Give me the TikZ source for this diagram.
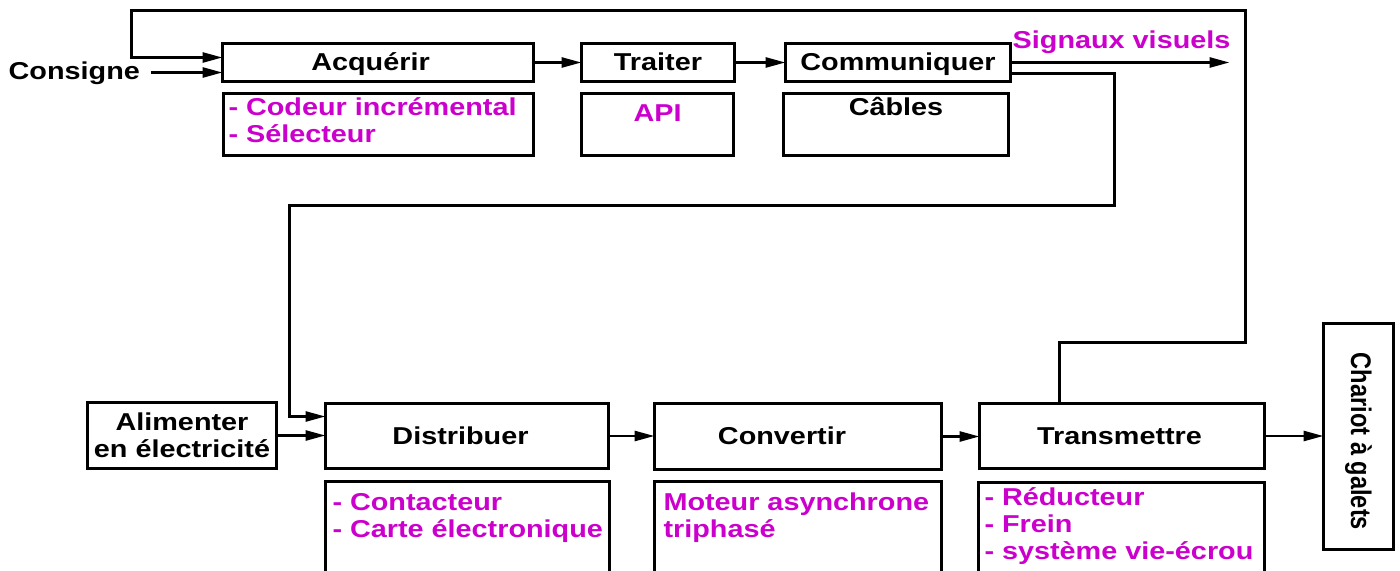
\documentclass[tikz,border=0pt]{standalone}
\usepackage{fontspec}
\setmainfont{Liberation Sans}[FakeStretch=1.18]
\newfontfamily\plainsans{Liberation Sans}
\usetikzlibrary{arrows.meta,calc}
\definecolor{mag}{HTML}{CC00CC}
\tikzset{
  blk/.style={draw, line width=3bp, inner sep=0pt, outer sep=0pt, font=\fontsize{24.5}{27}\selectfont\bfseries},
  lab/.style={blk, text height=18bp, text depth=2bp},
  sub/.style={blk, anchor=north west},
  free/.style={anchor=base west, inner sep=0pt, font=\fontsize{24.5}{27}\selectfont\bfseries},
  conn/.style={line width=2.7bp, -{Triangle[length=20bp,width=10bp]}}
}
\begin{document}
\begin{tikzpicture}[x=1bp,y=-1bp]
\clip (0,0) rectangle (1400,571);
\fill[white] (0,0) rectangle (1400,571);
\begin{scope}[shift={(0.5,0.5)}]
% upper row
\node[lab, minimum width=311bp, minimum height=38bp] (acq) at (377.5,62) {Acquérir\hspace*{15bp}};
\node[lab, minimum width=153bp, minimum height=38bp] (trt) at (657.5,62) {Traiter};
\node[lab, minimum width=225bp, minimum height=38bp] (com) at (897.5,62) {Communiquer};
\node[sub, text=mag] (acqs) at (223,93) {\parbox[t][62bp][t]{310bp}{\rule{0pt}{22bp}\hspace*{5bp}- Codeur incrémental\\\hspace*{5bp}- Sélecteur}};
\node[sub, text=mag] (apis) at (581,93) {\parbox[t][62bp][t]{152bp}{\centering\rule{0pt}{28bp}API}};
\node[sub] (cabs) at (783,93) {\parbox[t][62bp][t]{225bp}{\centering\rule{0pt}{22bp}Câbles}};
\node[free] (cons) at (8,79) {Consigne};
\node[free, text=mag] (sig) at (1012,48) {Signaux visuels};
% lower row
\node[blk, align=center, minimum width=189bp, minimum height=66bp] (ali) at (181.5,435) {Alimenter\\en électricité};
\node[lab, minimum width=283bp, minimum height=65bp] (dis) at (466.5,435.5) {Distribuer\hspace*{13bp}};
\node[lab, minimum width=287bp, minimum height=66bp] (cnv) at (797.5,436) {Convertir\hspace*{32bp}};
\node[lab, minimum width=285bp, minimum height=65bp] (tra) at (1121.5,435.5) {Transmettre\hspace*{5bp}};
\node[blk, minimum width=70bp, minimum height=226bp] (cha) at (1358,436) {\rotatebox{-90}{\scalebox{1}[1.2]{\plainsans\fontsize{23.7}{27}\selectfont\bfseries\hspace*{10bp}Chariot à galets}}};
\node[sub, text=mag] (diss) at (325,481) {\parbox[t][110bp][t]{284bp}{\rule{0pt}{29bp}\hspace*{7bp}- Contacteur\\\hspace*{7bp}- Carte électronique}};
\node[sub, text=mag] (cnvs) at (654,481) {\parbox[t][110bp][t]{287bp}{\rule{0pt}{29bp}\hspace*{9bp}Moteur asynchrone\\\hspace*{9bp}triphasé}};
\node[sub, text=mag] (tras) at (978,482) {\parbox[t][110bp][t]{286bp}{\rule{0pt}{23bp}\hspace*{6bp}- Réducteur\\\hspace*{6bp}- Frein\\\hspace*{6bp}- système vie-écrou}};
% connectors
\coordinate (cin) at (150,72);
\draw[conn] (cin) -- (cin -| acq.west);
\draw[conn] (acq.east) -- (trt.west);
\draw[conn] (trt.east) -- (com.west);
\coordinate (sigend) at (1229,62);
\draw[conn] (com.east) -- (sigend);
\coordinate (fbC) at (1114,205);
\coordinate (fbD) at (289,205);
\draw[conn] ([yshift=-11bp]com.east) -| (fbC) -- (fbD) |- ([yshift=19.5bp]dis.west);
\draw[conn] (ali.east) -- (ali.east -| dis.west);
\draw[conn] (dis.east) -- (dis.east -| cnv.west);
\draw[conn] (cnv.east) -- (cnv.east -| tra.west);
\draw[conn] (tra.east) -- (tra.east -| cha.west);
\coordinate (fbA) at (1245,342);
\coordinate (fbB) at (131,10);
\draw[conn] ([xshift=-62.5bp]tra.north) |- (fbA) |- (fbB) |- ([yshift=5bp]acq.west);
\end{scope}
\end{tikzpicture}
\end{document}
